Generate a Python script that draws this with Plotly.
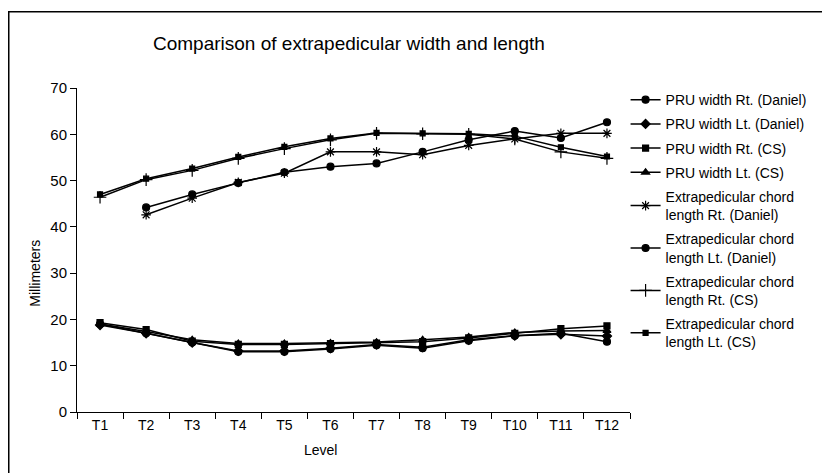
import plotly.graph_objects as go

levels = ["T1", "T2", "T3", "T4", "T5", "T6", "T7", "T8", "T9", "T10", "T11", "T12"]

pru_rt_daniel = [19.0, 17.0, 15.0, 13.0, 13.0, 13.6, 14.4, 13.8, 15.4, 16.5, 17.0, 15.2]
pru_lt_daniel = [18.8, 17.0, 15.0, 13.2, 13.2, 13.8, 14.6, 14.0, 15.6, 16.5, 16.8, 16.4]
pru_rt_cs = [19.3, 17.8, 15.3, 14.6, 14.6, 14.8, 14.9, 15.2, 16.0, 17.0, 18.0, 18.6]
pru_lt_cs = [19.0, 17.4, 15.6, 14.8, 14.8, 14.9, 15.1, 15.6, 16.2, 17.2, 17.5, 17.6]
ext_rt_daniel = [None, 42.6, 46.2, 49.6, 51.6, 56.2, 56.2, 55.6, 57.6, 59.0, 60.2, 60.2]
ext_lt_daniel = [None, 44.2, 47.0, 49.5, 51.8, 53.0, 53.7, 56.2, 58.8, 60.7, 59.2, 62.6]
ext_rt_cs = [46.4, 50.2, 52.2, 54.8, 56.9, 58.8, 60.2, 60.1, 60.0, 59.0, 56.2, 54.8]
ext_lt_cs = [47.0, 50.4, 52.6, 55.1, 57.3, 59.1, 60.3, 60.2, 60.1, 59.6, 57.2, 55.2]

series = [
    ("PRU width Rt. (Daniel)", pru_rt_daniel, "circle", 7),
    ("PRU width Lt. (Daniel)", pru_lt_daniel, "diamond", 7),
    ("PRU width Rt. (CS)", pru_rt_cs, "square", 6),
    ("PRU width Lt. (CS)", pru_lt_cs, "triangle-up", 7),
    ("Extrapedicular chord<br>length Rt. (Daniel)", ext_rt_daniel, "asterisk-open", 8),
    ("Extrapedicular chord<br>length Lt. (Daniel)", ext_lt_daniel, "circle", 7),
    ("Extrapedicular chord<br>length Rt. (CS)", ext_rt_cs, "cross-thin-open", 9),
    ("Extrapedicular chord<br>length Lt. (CS)", ext_lt_cs, "square", 5),
]

fig = go.Figure()
for i, (name, vals, sym, sz) in enumerate(series):
    fig.add_trace(go.Scatter(
        x=levels, y=vals, name=name, mode="lines+markers",
        line=dict(color="black", width=1.5),
        marker=dict(symbol=sym, size=sz, color="black",
                    line=dict(color="black", width=1.2)),
        legendgroup=f"g{i}",
        hoverinfo="skip",
    ))

font_family = "Liberation Sans, Arial, sans-serif"

fig.update_layout(
    width=830, height=473,
    margin=dict(l=69, r=208, t=80, b=69),
    paper_bgcolor="white", plot_bgcolor="white",
    font=dict(family=font_family, color="black", size=14),
    showlegend=True,
    legend=dict(
        x=0.992, y=1.012, xanchor="left", yanchor="top",
        traceorder="grouped", tracegroupgap=3,
        font=dict(size=14, color="black"),
        bgcolor="rgba(0,0,0,0)",
        itemwidth=30, maxheight=440,
    ),
    xaxis=dict(
        type="category", range=[-0.5, 11.5],
        showline=True, linecolor="black", linewidth=1,
        ticks="outside", tickson="boundaries", ticklen=6, tickcolor="black",
        showgrid=False, zeroline=False,
        tickfont=dict(size=14),
    ),
    yaxis=dict(
        range=[0, 70], tickvals=[0, 10, 20, 30, 40, 50, 60, 70],
        showline=True, linecolor="black", linewidth=1,
        ticks="outside", ticklen=6, tickcolor="black",
        showgrid=False, zeroline=False,
        tickfont=dict(size=15),
    ),
    annotations=[
        dict(text="Comparison of extrapedicular width and length",
             xref="paper", yref="paper", x=0.491, y=1.136,
             xanchor="center", yanchor="middle", showarrow=False,
             font=dict(size=19)),
        dict(text="Level", xref="paper", yref="paper", x=0.44, y=-0.118,
             xanchor="center", yanchor="middle", showarrow=False,
             font=dict(size=14)),
        dict(text="Millimeters", xref="paper", yref="paper", x=-0.076, y=0.43,
             xanchor="center", yanchor="middle", showarrow=False,
             textangle=-90, font=dict(size=14)),
    ],
    shapes=[
        dict(type="rect", xref="paper", yref="paper",
             x0=-0.1234, x1=1.36, y0=-0.25, y1=1.235,
             line=dict(color="black", width=1.5), fillcolor="rgba(0,0,0,0)"),
    ],
)

fig.write_html("out.html")
